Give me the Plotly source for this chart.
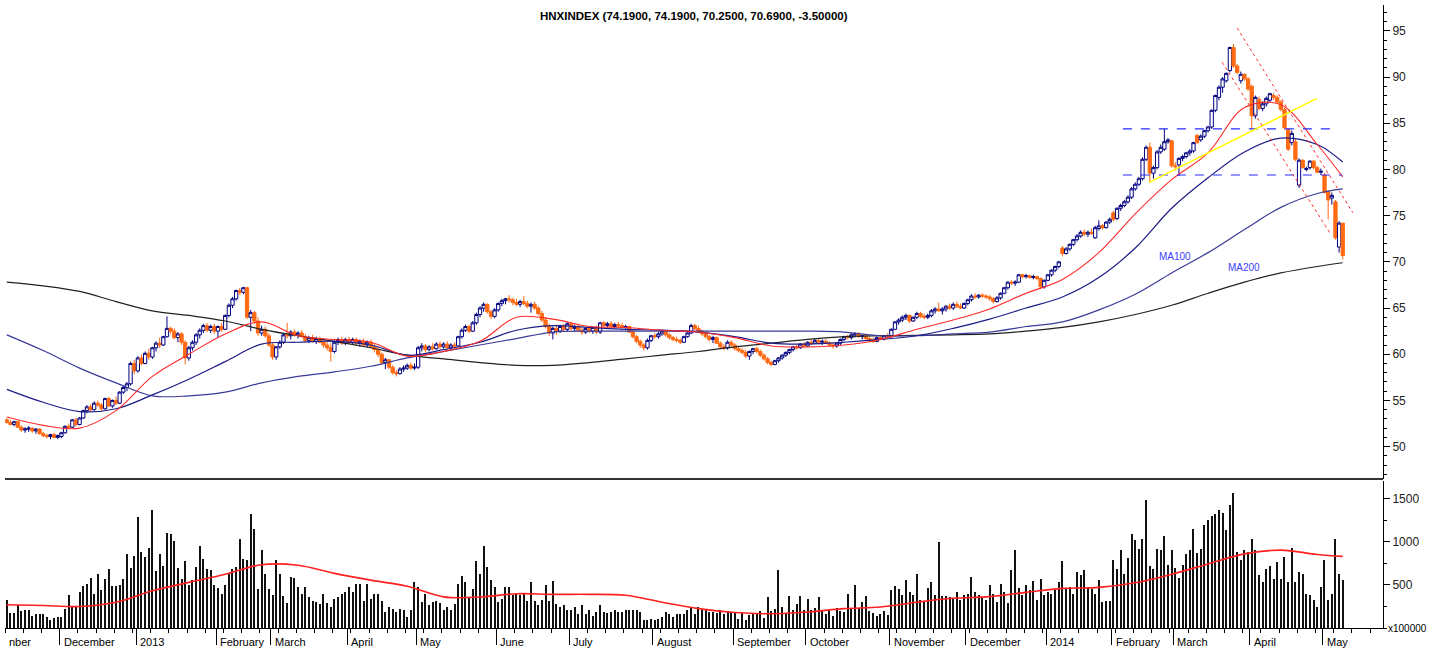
import plotly.graph_objects as go

# ---------------- data (HNXINDEX daily, Nov 2012 - May 2014) ----------------
opens = [
 52.9,52.6,52.4,52.7,52.1,51.8,51.9,52.0,51.7,51.9,51.4,51.2,51.1,51.3,51.0,
 51.1,51.5,52.2,52.1,52.9,52.4,53.1,53.9,54.3,54.0,54.7,54.5,54.1,55.2,54.4,55.0,54.7,55.9,56.4,56.8,59.0,
 58.2,59.6,59.0,60.1,59.7,60.7,61.2,61.0,61.9,62.8,62.5,61.8,62.2,61.3,59.6,60.7,61.3,62.1,62.6,63.1,62.6,63.0,
 62.5,63.0,62.7,64.2,65.3,66.0,66.9,66.7,67.2,64.0,64.5,63.6,62.3,62.7,62.0,
 61.0,59.7,60.8,61.3,62.1,62.0,62.4,62.1,62.3,61.9,61.5,61.8,61.4,61.7,61.3,61.0,60.7,60.3,61.3,61.6,61.2,
 61.6,61.3,61.6,61.2,61.4,61.0,61.3,60.8,60.5,60.0,59.1,59.4,58.6,58.0,57.9,58.4,58.5,58.8,58.5,
 58.6,60.7,60.9,60.5,60.8,60.6,61.1,60.8,61.1,60.7,61.0,60.9,61.9,62.6,63.0,62.5,63.4,64.3,65.0,65.4,64.6,64.1,
 64.8,65.5,65.8,66.0,65.9,65.6,65.4,65.7,65.5,65.2,65.4,65.0,64.4,63.7,63.0,62.3,62.8,62.5,63.0,62.7,
 63.3,62.8,63.0,62.6,62.4,62.8,62.5,62.9,62.4,63.4,63.1,63.3,63.0,63.2,63.1,62.9,63.0,62.4,61.9,61.4,61.0,60.7,61.5,
 62.0,61.9,62.2,62.5,62.1,61.8,61.6,61.5,61.3,61.9,62.3,63.1,62.8,62.5,62.2,61.9,61.6,61.8,61.2,60.8,60.7,61.3,
 61.0,60.6,60.4,60.2,59.8,60.3,60.6,60.3,59.9,59.5,59.1,58.9,59.3,59.6,59.9,60.2,60.5,60.8,60.7,61.1,
 60.9,61.3,61.2,61.5,61.3,61.4,61.2,61.0,60.9,61.2,61.6,61.9,61.8,62.1,62.2,61.9,62.0,61.7,61.5,61.4,61.8,61.7,62.0,
 61.9,62.7,63.5,63.7,64.0,64.2,63.6,64.0,64.4,64.1,64.0,64.2,64.7,64.9,64.7,64.9,65.2,65.0,65.4,65.2,65.0,
 65.5,65.9,66.3,66.2,66.4,66.3,66.2,66.0,65.7,66.1,66.6,67.2,67.8,67.7,67.8,68.6,68.4,68.5,68.3,68.4,68.2,67.3,
 68.0,68.6,69.1,69.5,71.5,70.9,71.4,71.9,72.4,72.8,73.2,73.0,73.2,72.6,73.6,73.9,73.7,74.3,
 75.3,74.7,75.8,76.1,76.5,77.0,77.9,78.4,79.0,81.1,82.4,79.6,80.2,81.9,82.2,83.0,83.1,
 80.4,80.5,81.2,81.4,81.8,82.0,83.7,83.2,83.6,84.2,84.6,86.4,87.8,88.9,89.6,90.7,93.2,91.2,89.6,90.3,89.8,
 89.0,85.8,87.6,86.6,87.1,87.5,88.0,87.8,87.3,86.5,84.3,82.9,83.0,78.3,81.0,80.0,80.2,80.9,80.2,79.7,
 79.4,77.6,76.9,76.5,71.6,74.19]
highs = [
 53.1,52.9,52.8,52.8,52.3,52.1,52.2,52.1,52.0,52.0,51.6,51.4,51.4,51.5,51.3,
 51.6,52.3,52.5,53.0,53.1,53.2,54.0,54.5,54.6,54.9,55.0,54.7,55.3,55.4,55.1,55.4,56.0,56.6,57.0,59.2,59.4,
 59.8,60.0,60.3,60.6,60.8,61.4,61.8,62.0,64.1,63.0,62.8,62.4,62.4,61.5,60.9,61.5,62.3,62.8,63.3,63.4,63.2,63.3,
 63.1,63.4,64.3,65.5,66.2,67.0,67.2,67.3,67.3,64.8,64.7,64.0,63.1,63.0,62.3,
 61.3,60.9,61.5,62.3,63.4,62.6,62.7,62.5,62.6,62.2,62.0,62.1,61.9,61.9,61.7,61.4,61.2,61.5,61.8,61.9,61.8,
 61.9,61.8,61.8,61.6,61.7,61.5,61.6,61.1,60.8,60.2,59.6,59.5,58.8,58.3,58.6,58.8,59.0,59.1,59.0,
 60.9,61.2,61.1,61.0,61.2,61.3,61.4,61.3,61.4,61.2,61.3,62.0,62.8,63.2,63.2,63.6,64.5,65.2,65.6,65.5,64.8,65.0,
 65.6,66.0,66.1,66.4,66.1,66.0,65.9,66.3,65.8,65.6,65.7,65.2,64.7,64.0,63.3,63.0,63.2,63.2,63.3,63.5,
 63.5,63.2,63.2,62.9,62.9,63.0,63.0,63.1,63.5,63.6,63.5,63.6,63.4,63.5,63.4,63.2,63.1,62.6,62.1,61.6,61.2,61.7,62.1,
 62.3,62.4,62.6,62.6,62.3,62.0,61.9,61.7,62.0,62.4,63.3,63.3,63.1,62.7,62.4,62.1,62.0,61.9,61.4,61.1,61.5,61.5,
 61.2,60.9,60.7,60.5,60.4,60.7,60.8,60.5,60.1,59.7,59.3,59.4,59.7,60.0,60.3,60.6,60.9,61.0,61.2,61.3,
 61.4,61.6,61.7,61.7,61.6,61.7,61.4,61.2,61.3,61.7,62.0,62.1,62.3,62.4,62.4,62.1,62.1,61.9,61.8,61.9,62.1,62.1,62.3,
 62.8,63.6,63.9,64.2,64.4,64.3,64.1,64.6,64.6,64.4,64.4,64.9,65.1,65.6,65.1,65.3,65.5,65.6,65.7,65.5,65.6,
 66.0,66.5,66.6,66.5,66.6,66.5,66.4,66.2,66.3,66.7,67.3,67.9,68.0,68.0,68.7,68.7,68.7,68.6,68.6,68.5,68.3,68.1,
 68.7,69.2,69.6,70.1,71.7,71.6,72.0,72.5,73.0,73.4,73.5,73.4,73.6,73.9,74.5,74.1,74.4,74.8,
 75.5,75.9,76.3,76.7,77.2,78.1,78.6,79.2,81.3,82.6,82.9,80.4,82.1,82.7,84.4,83.4,83.2,
 80.8,81.3,81.6,81.9,82.2,83.0,83.8,83.8,84.3,84.7,86.5,88.1,89.1,90.0,90.5,93.3,93.6,91.4,90.6,90.4,90.0,
 89.2,88.0,87.9,87.4,87.9,88.3,88.3,88.0,87.5,86.7,84.5,84.2,83.3,81.2,81.1,80.3,81.0,81.0,80.4,80.1,
 79.6,77.7,77.5,76.7,74.4,74.19]
lows = [
 52.5,52.3,52.2,52.0,51.6,51.5,51.6,51.5,51.4,51.3,51.0,50.9,50.8,50.9,50.8,
 50.9,51.4,51.9,52.0,52.2,52.3,53.0,53.6,53.8,53.9,54.3,53.9,54.0,54.3,54.2,54.5,54.6,55.7,56.0,56.6,57.8,
 58.0,58.8,58.9,59.4,59.5,60.3,60.7,60.9,61.8,62.2,61.6,61.3,61.0,58.9,59.3,60.4,61.0,61.7,62.3,62.4,62.3,62.2,
 61.8,62.4,62.6,64.0,65.0,65.8,66.4,66.5,63.8,62.5,63.3,62.0,62.0,61.8,60.8,
 59.4,59.4,60.6,61.1,61.7,61.6,61.9,61.7,61.8,61.3,61.2,61.3,61.1,61.2,60.7,60.4,59.2,60.1,61.0,61.0,61.0,
 61.1,61.0,61.0,60.8,60.8,60.7,60.6,60.2,59.7,58.9,58.4,58.4,57.8,57.6,57.8,58.1,58.3,58.3,58.3,
 58.4,60.3,60.2,60.3,60.4,60.5,60.6,60.6,60.5,60.4,60.6,60.8,61.7,62.4,62.3,62.4,63.2,64.0,64.6,64.4,63.8,63.9,
 64.6,65.2,65.4,65.6,65.3,65.2,65.1,65.3,65.0,64.5,64.8,64.2,63.5,62.8,62.0,61.6,62.1,62.3,62.4,62.5,
 62.6,62.4,62.4,62.1,62.2,62.3,62.2,62.2,62.2,62.9,62.9,62.9,62.8,62.9,62.7,62.6,62.3,61.7,61.2,60.7,60.4,60.5,61.3,
 61.7,61.7,62.0,61.9,61.6,61.4,61.3,61.1,61.2,61.8,62.2,62.6,62.3,62.0,61.7,61.4,61.2,61.1,60.6,60.4,60.5,60.8,
 60.4,60.2,60.0,59.6,59.4,60.0,60.1,59.7,59.3,58.9,58.7,58.8,59.1,59.4,59.7,60.0,60.3,60.5,60.6,60.7,
 60.8,61.0,61.1,61.1,61.0,61.1,60.8,60.6,60.7,61.0,61.4,61.6,61.6,61.8,61.8,61.6,61.5,61.3,61.2,61.3,61.5,61.5,61.7,
 61.8,62.6,63.2,63.5,63.7,63.4,63.5,63.8,63.9,63.8,63.8,64.0,64.4,64.6,64.3,64.6,64.8,64.8,65.0,64.9,64.9,
 65.3,65.7,66.0,66.0,66.1,66.0,65.8,65.5,65.6,65.9,66.5,67.0,67.5,67.4,67.7,68.2,68.2,68.2,68.1,68.0,67.1,67.1,
 67.9,68.4,68.9,69.3,70.6,70.8,71.2,71.7,72.2,72.6,72.8,72.7,72.9,72.5,73.4,73.5,73.6,74.1,
 74.4,74.5,75.5,75.9,76.3,76.8,77.7,78.2,78.8,80.9,78.6,79.0,80.0,81.7,82.0,82.8,80.2,
 79.9,79.3,80.9,81.2,81.5,81.8,82.8,83.0,83.4,84.0,84.4,86.2,87.5,88.3,89.4,90.5,91.0,90.3,89.3,89.6,88.5,
 84.4,85.5,86.4,86.3,86.8,87.3,87.5,87.1,86.3,84.3,82.0,82.6,80.9,78.0,80.1,79.8,80.0,80.0,79.6,79.4,
 77.4,74.6,76.2,72.4,71.0,70.25]
closes = [
 52.6,52.4,52.7,52.1,51.8,51.9,52.0,51.7,51.9,51.4,51.2,51.1,51.3,51.0,51.2,
 51.5,52.2,52.1,52.9,52.4,53.1,53.9,54.3,54.0,54.7,54.5,54.1,55.2,54.4,55.0,54.7,55.9,56.4,56.8,59.0,58.2,
 59.6,59.0,60.1,59.7,60.7,61.2,61.0,61.9,62.8,62.5,61.8,62.2,61.3,59.6,60.7,61.3,62.1,62.6,63.1,62.6,63.0,62.5,
 63.0,62.7,64.2,65.3,66.0,66.9,66.7,67.2,64.0,64.5,63.6,62.3,62.7,62.0,61.0,
 59.7,60.8,61.3,62.1,62.0,62.4,62.1,62.3,61.9,61.5,61.8,61.4,61.7,61.3,61.0,60.7,60.3,61.3,61.6,61.2,61.6,
 61.3,61.6,61.2,61.4,61.0,61.3,60.8,60.5,60.0,59.1,59.4,58.6,58.0,57.9,58.4,58.5,58.8,58.5,58.6,
 60.7,60.9,60.5,60.8,60.6,61.1,60.8,61.1,60.7,61.0,60.9,61.9,62.6,63.0,62.5,63.4,64.3,65.0,65.4,64.6,64.1,64.8,
 65.5,65.8,66.0,65.9,65.6,65.4,65.7,65.5,65.2,65.4,65.0,64.4,63.7,63.0,62.3,62.8,62.5,63.0,62.7,63.3,
 62.8,63.0,62.6,62.4,62.8,62.5,62.9,62.4,63.4,63.1,63.3,63.0,63.2,63.1,62.9,63.0,62.4,61.9,61.4,61.0,60.7,61.5,62.0,
 61.9,62.2,62.5,62.1,61.8,61.6,61.5,61.3,61.9,62.3,63.1,62.8,62.5,62.2,61.9,61.6,61.8,61.2,60.8,60.7,61.3,61.0,
 60.6,60.4,60.2,59.8,60.3,60.6,60.3,59.9,59.5,59.1,58.9,59.3,59.6,59.9,60.2,60.5,60.8,60.7,61.1,60.9,
 61.3,61.2,61.5,61.3,61.4,61.2,61.0,60.9,61.2,61.6,61.9,61.8,62.1,62.2,61.9,62.0,61.7,61.5,61.4,61.8,61.7,62.0,61.9,
 62.7,63.5,63.7,64.0,64.2,63.6,64.0,64.4,64.1,64.0,64.2,64.7,64.9,64.7,64.9,65.2,65.0,65.4,65.2,65.0,65.5,
 65.9,66.3,66.2,66.4,66.3,66.2,66.0,65.7,66.1,66.6,67.2,67.8,67.7,67.8,68.6,68.4,68.5,68.3,68.4,68.2,67.3,68.0,
 68.6,69.1,69.5,70.0,70.9,71.4,71.9,72.4,72.8,73.2,73.0,73.2,73.1,73.7,73.9,73.7,74.3,74.6,
 74.6,75.8,76.1,76.5,77.0,77.9,78.4,79.0,81.1,82.4,79.6,80.2,81.9,82.4,83.0,83.2,80.4,
 80.3,81.2,81.4,81.8,82.0,82.9,82.9,83.6,84.2,84.6,86.4,88.0,88.9,89.8,90.4,93.2,91.2,90.5,90.3,89.8,88.7,
 85.8,87.8,86.6,87.1,87.7,88.2,87.8,87.3,86.5,84.5,82.2,83.9,81.1,81.0,80.2,80.1,80.9,80.2,79.7,79.8,
 77.5,76.7,77.2,72.6,74.19,70.69]
volumes = [
 330,175,180,265,200,205,205,145,160,165,160,130,90,115,125,
 130,225,380,245,250,420,485,515,585,390,625,445,575,685,485,485,495,575,865,700,835,
 1290,885,820,935,1370,665,865,720,1105,1090,1010,700,575,780,495,555,710,950,805,690,670,495,
 470,400,495,630,690,710,1030,805,790,1320,1155,455,910,630,455,
 380,785,625,370,290,595,585,480,400,480,360,315,300,285,400,295,245,340,360,390,420,
 480,420,515,515,310,515,340,390,400,310,185,245,225,185,225,205,130,210,535,475,
 300,400,265,300,315,290,205,245,205,285,515,600,535,360,455,780,630,950,705,560,
 475,300,340,475,480,380,390,380,390,320,535,310,265,330,495,320,550,280,245,265,
 205,205,245,165,265,165,205,135,185,265,185,175,185,215,185,185,205,215,205,205,
 185,90,95,110,90,110,130,185,165,130,165,165,165,205,235,165,250,205,205,185,
 190,175,210,160,200,180,
 185,110,175,90,150,175,165,195,120,360,200,220,
 670,245,160,370,205,280,370,205,340,210,230,360,205,
 160,205,140,230,200,185,400,230,496,230,300,370,200,175,140,160,195,150,
 440,485,457,380,560,420,380,624,330,300,470,535,380,1000,375,
 378,360,350,420,330,380,400,593,420,380,360,330,496,390,300,515,420,290,678,903,
 460,380,500,440,546,330,574,380,420,400,440,535,779,460,480,400,651,612,670,480,
 450,390,554,300,320,310,
 795,690,903,632,814,1089,1027,922,1039,1484,717,690,922,903,1066,729,903,701,585,729,
 864,903,1155,872,922,1194,1252,1298,1329,1368,1337,1143,1426,1570,884,787,903,884,1039,911,
 612,535,690,717,574,767,574,826,535,934,535,651,632,400,380,322,244,477,787,322,
 400,1039,632,554]

ma_idx = [0,10,20,30,40,50,60,70,80,90,100,110,120,130,140,150,160,170,180,190,
          200,210,220,230,240,250,260,270,280,290,300,310,320,330,340,350,360,367]
ma20 = [53.2,52.3,52.0,53.9,57.6,60.0,62.2,63.5,62.0,61.6,61.3,59.8,60.3,61.4,64.0,63.8,63.0,62.9,62.6,62.4,
        61.8,60.9,60.8,61.0,61.6,62.7,63.7,64.9,66.6,68.1,71.0,75.2,78.9,81.8,86.7,87.0,82.7,79.2]
ma50 = [56.2,54.8,53.8,54.1,55.6,57.3,59.2,61.1,61.3,61.4,61.0,59.9,60.5,61.3,62.6,63.1,62.9,62.7,62.6,62.4,
        61.9,61.2,61.1,61.3,61.6,62.0,62.8,63.8,65.0,66.2,68.3,71.5,75.8,79.1,81.9,83.4,82.7,80.8]
ma100 = [62.1,60.4,58.5,56.9,55.5,55.5,55.9,56.9,57.6,58.1,58.7,59.6,60.3,61.0,61.7,62.4,62.5,62.5,62.5,62.5,
         62.5,62.5,62.5,62.4,62.0,62.0,62.2,62.4,63.0,63.5,64.8,66.5,68.8,71.0,73.5,75.9,77.4,77.9]
ma200 = [67.8,67.4,66.8,65.7,64.7,64.2,63.6,62.7,62.0,61.4,60.7,59.9,59.5,59.1,58.8,58.8,59.1,59.5,59.9,60.3,
         60.8,61.2,61.6,61.9,62.0,62.05,62.1,62.2,62.5,62.9,63.5,64.3,65.3,66.6,67.8,68.8,69.5,69.9]
vol_ma = [271,262,250,300,432,530,625,736,729,635,556,485,362,360,398,391,391,380,300,225,
          180,165,186,225,244,300,345,365,414,460,472,525,625,745,862,905,855,833]

# month labels on the time axis; the first one is the visible tail of a label
# whose month began before the window
month_names = ["nber","December","2013","February","March","April","May","June","July","August",
               "September","October","November","December","2014","February","March","April","May"]
month_start = [-9,15,36,58,73,94,113,135,155,178,200,220,243,264,286,304,321,342,362]

# hand-drawn trend lines (session index, price)
support_levels = [84.4, 79.4]
support_span = [(306.6, 364.9), (306.6, 366.8)]
yellow_line = [(313.8, 78.6), (359.9, 87.7)]
red_channel = [[(338.0, 95.3), (369.8, 75.3)], [(333.9, 91.6), (363.5, 73.1)]]

title_text = "HNXINDEX (74.1900, 74.1900, 70.2500, 70.6900, -3.50000)"

# ---------------- figure ----------------
idx = list(range(len(closes)))
FONT = "Liberation Sans, Arial, sans-serif"
ORANGE = "#FF6A13"
NAVY = "#000080"
X_RANGE = [-0.5, 378.06]

fig = go.Figure()
fig.add_trace(go.Candlestick(
    x=idx, open=opens, high=highs, low=lows, close=closes,
    increasing=dict(line=dict(color=NAVY, width=1), fillcolor="#FFFFFF"),
    decreasing=dict(line=dict(color=ORANGE, width=1), fillcolor=ORANGE),
    whiskerwidth=0, showlegend=False, xaxis="x", yaxis="y", hoverinfo="skip"))

for vals, col, w in [(ma200, "#222222", 1.2), (ma100, "#3A3A98", 1.2), (ma50, "#1C1C88", 1.2), (ma20, "#FF2A2A", 1.1)]:
    fig.add_trace(go.Scatter(x=ma_idx, y=vals, mode="lines", line=dict(color=col, width=w, shape="spline", smoothing=1.0),
                             showlegend=False, xaxis="x", yaxis="y", hoverinfo="skip"))

fig.add_trace(go.Bar(x=idx, y=volumes, width=0.3, marker=dict(color="#111111", line=dict(width=0)),
                     showlegend=False, xaxis="x", yaxis="y2", hoverinfo="skip"))
fig.add_trace(go.Scatter(x=ma_idx, y=vol_ma, mode="lines", line=dict(color="#FF2020", width=1.6, shape="spline"),
                         showlegend=False, xaxis="x", yaxis="y2", hoverinfo="skip"))

# trend lines
for lvl, (a, b) in zip(support_levels, support_span):
    fig.add_shape(type="line", xref="x", yref="y", x0=a, x1=b, y0=lvl, y1=lvl,
                  line=dict(color="#2A2AFF", width=1.2, dash="dash"))
fig.add_shape(type="line", xref="x", yref="y", x0=yellow_line[0][0], y0=yellow_line[0][1],
              x1=yellow_line[1][0], y1=yellow_line[1][1], line=dict(color="#FFFF00", width=1.5))
for seg in red_channel:
    fig.add_shape(type="line", xref="x", yref="y", x0=seg[0][0], y0=seg[0][1], x1=seg[1][0], y1=seg[1][1],
                  line=dict(color="#FF3030", width=1, dash="dot"))

PRICE_BOTTOM = 0.2392
VOL_TOP = 0.236
fig.add_shape(type="line", xref="paper", yref="paper", x0=0, x1=1, y0=PRICE_BOTTOM, y1=PRICE_BOTTOM,
              line=dict(color="#333333", width=2))

annotations = [
    dict(text="<b>" + title_text + "</b>", xref="paper", yref="paper", x=0.5, y=1, yanchor="top", yshift=-3,
         showarrow=False, font=dict(family=FONT, size=11.5, color="#000"), xanchor="center"),
    dict(text="MA100", xref="x", yref="y", x=320.9, y=70.6, showarrow=False, xanchor="center",
         font=dict(family=FONT, size=10, color="#4040FF")),
    dict(text="MA200", xref="x", yref="y", x=339.9, y=69.4, showarrow=False, xanchor="center",
         font=dict(family=FONT, size=10, color="#4040FF")),
    dict(text="x100000", xref="paper", yref="paper", x=1.0, y=0, xanchor="left", yanchor="middle",
         xshift=3, showarrow=False, font=dict(family=FONT, size=10, color="#000")),
]
span = X_RANGE[1] - X_RANGE[0]
for name, s in zip(month_names, month_start):
    frac = (s - 0.5 - X_RANGE[0]) / span
    if frac < 0:
        annotations.append(dict(text=name, xref="paper", yref="paper", x=0, y=0, xanchor="left", yanchor="middle",
                                xshift=2, yshift=-14, showarrow=False,
                                font=dict(family=FONT, size=11, color="#000")))
    else:
        annotations.append(dict(text=name, xref="x", yref="paper", x=s - 0.5, y=0, xanchor="left", yanchor="middle",
                                xshift=2, yshift=-14, showarrow=False,
                                font=dict(family=FONT, size=11, color="#000")))

visible_starts = [s - 0.5 for s in month_start if s - 0.5 >= X_RANGE[0]]

fig.update_layout(
    width=1437, height=651,
    margin=dict(l=5, r=54, t=5, b=23),
    paper_bgcolor="white", plot_bgcolor="white",
    boxgap=0.0, boxgroupgap=0.1,
    bargap=0,
    showlegend=False,
    annotations=annotations,
    xaxis=dict(domain=[0, 1], range=X_RANGE, anchor="y2", showline=True, linecolor="#000", linewidth=1,
               tickmode="array", tickvals=visible_starts, ticktext=["" for _ in visible_starts],
               ticks="outside", ticklen=16, tickcolor="#000", tickwidth=1,
               minor=dict(ticks="outside", ticklen=4, tickcolor="#000", dtick=5, tick0=-0.5),
               showgrid=False, zeroline=False, rangeslider=dict(visible=False), fixedrange=True),
    yaxis=dict(domain=[PRICE_BOTTOM, 1], range=[46.5, 97.8], side="right", anchor="x",
               showline=True, linecolor="#000", linewidth=1, ticks="outside", ticklen=6, tickcolor="#000",
               tickvals=[50, 55, 60, 65, 70, 75, 80, 85, 90, 95],
               minor=dict(ticks="outside", ticklen=3, tickcolor="#000", dtick=1),
               tickfont=dict(family=FONT, size=12, color="#222"), showgrid=False, zeroline=False),
    yaxis2=dict(domain=[0, VOL_TOP], range=[0, 1709], side="right", anchor="x",
                showline=True, linecolor="#000", linewidth=1, ticks="outside", ticklen=6, tickcolor="#000",
                tickvals=[500, 1000, 1500],
                minor=dict(ticks="outside", ticklen=3, tickcolor="#000", dtick=250),
                tickfont=dict(family=FONT, size=12, color="#222"), showgrid=False, zeroline=False),
)

fig.write_html("out.html", config={"displayModeBar": False},
               post_script="document.body.style.margin='0';document.body.style.overflow='hidden';")
